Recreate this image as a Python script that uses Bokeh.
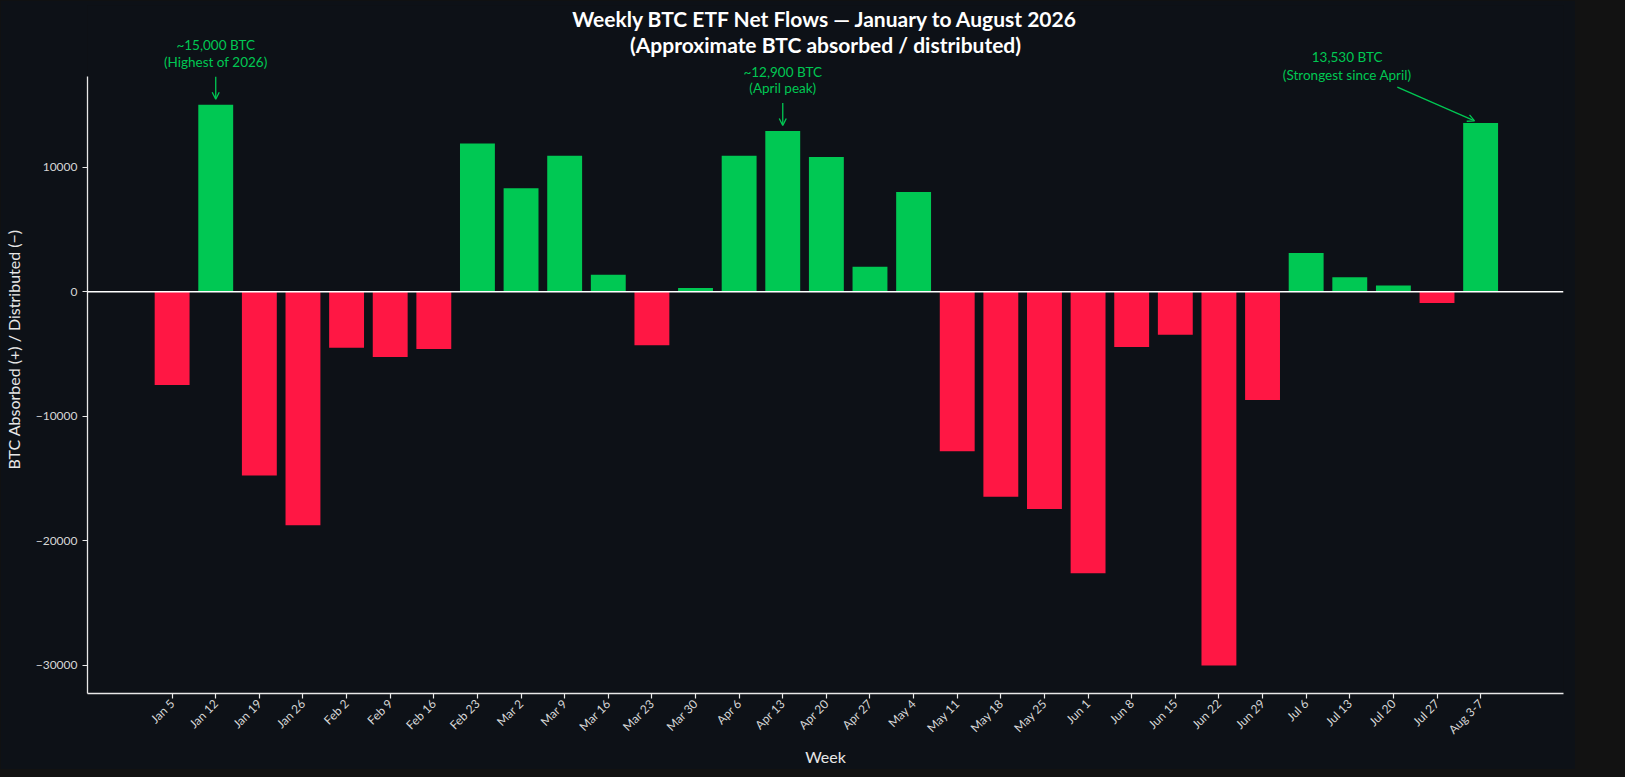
import math
import re
from bokeh.plotting import figure
from bokeh.models import (Range1d, FixedTicker, Span, Label, Arrow, OpenHead,
                          ColumnDataSource)
from bokeh.embed import file_html
from bokeh.resources import INLINE

# ---------------- data ----------------
weeks = ["Jan 5", "Jan 12", "Jan 19", "Jan 26", "Feb 2", "Feb 9", "Feb 16",
         "Feb 23", "Mar 2", "Mar 9", "Mar 16", "Mar 23", "Mar 30", "Apr 6",
         "Apr 13", "Apr 20", "Apr 27", "May 4", "May 11", "May 18", "May 25",
         "Jun 1", "Jun 8", "Jun 15", "Jun 22", "Jun 29", "Jul 6", "Jul 13",
         "Jul 20", "Jul 27", "Aug 3-7"]
flows = [-7500, 15000, -14750, -18750, -4500, -5250, -4600,
         11900, 8300, 10900, 1350, -4300, 300, 10900,
         12900, 10800, 2000, 8000, -12800, -16450, -17450,
         -22600, -4450, -3450, -30000, -8700, 3100, 1150,
         500, -900, 13530]

y_ticks = [-30000, -20000, -10000, 0, 10000]

ann_index = [1, 14, 30]
ann_line1 = ["~15,000 BTC", "~12,900 BTC", "13,530 BTC"]
ann_line2 = ["(Highest of 2026)", "(April peak)", "(Strongest since April)"]

title_line1 = "Weekly BTC ETF Net Flows \u2014 January to August 2026"
title_line2 = "(Approximate BTC absorbed / distributed)"

GREEN = "#00C853"
RED = "#FF1744"
BG = "#0d1117"
FG = "#e8e8e8"
FONT = "Lato"

x = list(range(len(weeks)))
colors = [GREEN if v >= 0 else RED for v in flows]
src = ColumnDataSource(dict(x=x, top=flows, color=colors, week=weeks))

ymin, ymax = min(flows), max(flows)
pad = (ymax - ymin) * 0.05
axis_lo, axis_hi = ymin - pad, ymax + pad
# extra headroom above the axis for title + annotations (kept inside frame)
head = (axis_hi - axis_lo) * 0.1155
x_lo, x_hi = -1.94, 31.9

p = figure(width=1575, height=769,
           x_range=Range1d(x_lo, x_hi),
           y_range=Range1d(axis_lo, axis_hi + head),
           output_backend="svg", toolbar_location=None,
           background_fill_color=BG, border_fill_color=BG,
           min_border_left=82, min_border_right=12,
           min_border_top=5, min_border_bottom=60)
p.outline_line_color = None
p.title.visible = False

p.vbar(x="x", top="top", bottom=0, width=0.8, color="color",
       line_color=None, source=src)

p.add_layout(Span(location=0, dimension="width", line_color="white",
                  line_width=1.5))

p.grid.visible = False

# axes
for ax in (p.xaxis[0], p.yaxis[0]):
    ax.axis_line_color = FG
    ax.axis_line_width = 1.3
    ax.major_tick_line_color = FG
    ax.major_tick_line_width = 1.2
    ax.major_tick_out = 5
    ax.major_tick_in = 0
    ax.minor_tick_line_color = None
    ax.major_label_text_color = "#d6d6d6"
    ax.major_label_text_font = FONT
    ax.axis_label_text_font = FONT
    ax.axis_label_text_color = FG
    ax.axis_label_text_font_size = "16px"
    ax.axis_label_text_font_style = "normal"

p.yaxis.bounds = (axis_lo, axis_hi)
p.yaxis.ticker = FixedTicker(ticks=y_ticks)
p.yaxis.major_label_overrides = {t: str(t).replace("-", "\u2212") for t in y_ticks}
p.yaxis.major_label_text_font_size = "12px"
p.yaxis.axis_label = "BTC Absorbed (+) / Distributed (\u2212)"
p.yaxis.axis_label_standoff = 10

p.xaxis.ticker = FixedTicker(ticks=x)
p.xaxis.major_label_overrides = {i: w for i, w in zip(x, weeks)}
p.xaxis.major_label_orientation = math.pi / 4
p.xaxis.major_label_text_font_size = "12px"
p.xaxis.major_label_standoff = 3
p.xaxis.axis_label = "Week"
p.xaxis.axis_label_standoff = 2

# title (drawn as labels centred over the plotting area)
span = ymax - ymin
xc = (x_lo + x_hi) / 2
for yy, tt in ((axis_hi + 0.104 * span, title_line1),
               (axis_hi + 0.057 * span, title_line2)):
    p.add_layout(Label(x=xc, y=yy, text=tt, text_align="center",
                       text_baseline="middle", text_color="white",
                       text_font=FONT, text_font_size="21px",
                       text_font_style="bold"))

# annotations
for k, (i, l1, l2) in enumerate(zip(ann_index, ann_line1, ann_line2)):
    v = flows[i]
    if k < 2:
        tx = i
        y1, y2 = v + 0.106 * span, v + 0.076 * span
        xs, ys, xe, ye = i, v + 0.050 * span, i, v + 0.0098 * span
    else:
        tx = i - 3.06
        y1, y2 = v + 0.117 * span, v + 0.086 * span
        xs, ys, xe, ye = i - 1.91, v + 0.064 * span, i - 0.14, v + 0.004 * span
    for yy, tt in ((y1, l1), (y2, l2)):
        p.add_layout(Label(x=tx, y=yy, text=tt, text_align="center",
                           text_baseline="middle", text_color=GREEN,
                           text_font=FONT, text_font_size="13.5px"))
    p.add_layout(Arrow(end=OpenHead(size=7, line_color=GREEN, line_width=1.3),
                       x_start=xs, y_start=ys, x_end=xe, y_end=ye,
                       line_color=GREEN, line_width=1.3))

html = file_html(p, INLINE, title="Weekly BTC ETF Net Flows")
html = re.sub(r"<body([^>]*)>", r'<body\1 style="background:#121212;">', html, count=1)
html = html.replace("</head>",
                    "<style>html,body{background:#121212;overflow:hidden;}</style></head>", 1)
open("out.html", "w").write(html)
